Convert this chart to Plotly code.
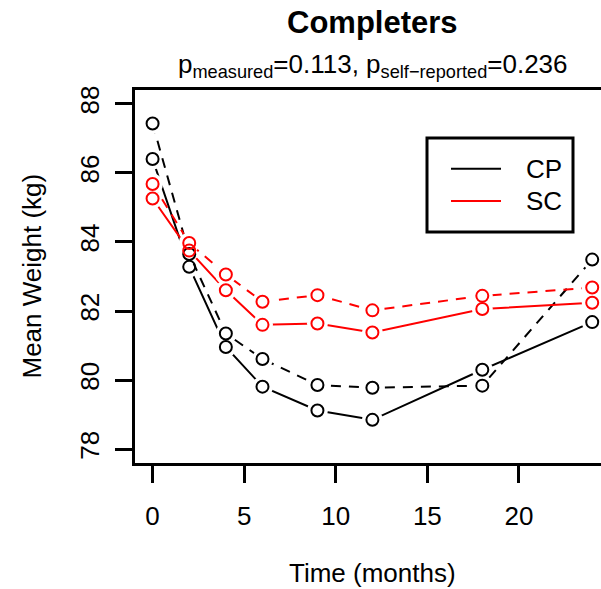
import plotly.graph_objects as go

# ---- data ----
months = [0, 2, 4, 6, 9, 12, 18, 24]
cp_measured = [86.40, 83.28, 80.96, 79.81, 79.12, 78.85, 80.30, 81.68]       # black solid
cp_selfreported = [87.43, 83.65, 81.35, 80.61, 79.86, 79.78, 79.84, 83.49]   # black dashed
sc_measured = [85.26, 83.75, 82.60, 81.60, 81.64, 81.38, 82.06, 82.24]       # red solid
sc_selfreported = [85.68, 83.97, 83.06, 82.27, 82.46, 82.02, 82.44, 82.68]   # red dashed

x_ticks = [0, 5, 10, 15, 20]
y_ticks = [78, 80, 82, 84, 86, 88]
legend_names = ["CP", "SC"]

FONT = "Liberation Sans, Arial, sans-serif"
BLACK = "#000000"
RED = "#FF0000"

series = [
    ("CP", cp_measured, BLACK, "solid"),
    ("CP self-reported", cp_selfreported, BLACK, "10px,8px"),
    ("SC", sc_measured, RED, "solid"),
    ("SC self-reported", sc_selfreported, RED, "10px,8px"),
]

fig = go.Figure()
# lines, each followed by white discs that open small gaps around its points (R type="b")
for name, vals, col, dash in series:
    fig.add_trace(go.Scatter(x=months, y=vals, mode="lines", name=name,
                             line=dict(color=col, width=2, dash=dash),
                             showlegend=False, hoverinfo="skip"))
    fig.add_trace(go.Scatter(x=months, y=vals, mode="markers", showlegend=False,
                             marker=dict(symbol="circle", size=21, color="white",
                                         line=dict(width=0)),
                             hoverinfo="skip"))
# open circles on top
for name, vals, col, dash in series:
    fig.add_trace(go.Scatter(x=months, y=vals, mode="markers", showlegend=False,
                             name=name,
                             marker=dict(symbol="circle-open", size=12, color=col,
                                         line=dict(width=2, color=col))))

W, H = 601, 589
L, R, T, B = 135, 0, 90, 126
pw, ph = W - L - R, H - T - B

def px_to_paper_x(px):
    return (px - L) / pw

def px_to_paper_y(py):
    return (H - B - py) / ph

# legend box (R-style), drawn in paper coordinates
leg_x0, leg_x1, leg_y0, leg_y1 = 427, 573, 138, 232
leg_line_x0, leg_line_x1, leg_text_x = 451, 501, 524
leg_rows = [168.7, 201.0]
leg_cols = [BLACK, RED]

shapes = [dict(type="rect", xref="paper", yref="paper",
               x0=px_to_paper_x(leg_x0), x1=px_to_paper_x(leg_x1),
               y0=px_to_paper_y(leg_y1), y1=px_to_paper_y(leg_y0),
               line=dict(color="black", width=3), fillcolor="white", layer="above")]
annotations = []
for nm, yrow, col in zip(legend_names, leg_rows, leg_cols):
    shapes.append(dict(type="line", xref="paper", yref="paper",
                       x0=px_to_paper_x(leg_line_x0), x1=px_to_paper_x(leg_line_x1),
                       y0=px_to_paper_y(yrow), y1=px_to_paper_y(yrow),
                       line=dict(color=col, width=2), layer="above"))
    annotations.append(dict(text=nm, xref="paper", yref="paper",
                            x=px_to_paper_x(leg_text_x), y=px_to_paper_y(yrow),
                            xanchor="left", yanchor="middle", showarrow=False,
                            font=dict(family=FONT, size=26, color="black")))

annotations += [
    dict(text="<b>Completers</b>", xref="paper", yref="paper",
         x=px_to_paper_x(372.5), y=px_to_paper_y(22), xanchor="center", yanchor="middle",
         showarrow=False, font=dict(family=FONT, size=31, color="black")),
    dict(text="p<sub>measured</sub>=0.113, p<sub>self\u2212reported</sub>=0.236",
         xref="paper", yref="paper",
         x=px_to_paper_x(372.5), y=px_to_paper_y(66), xanchor="center", yanchor="middle",
         showarrow=False, font=dict(family=FONT, size=26, color="black")),
    dict(text="Time (months)", xref="paper", yref="paper",
         x=px_to_paper_x(372.5), y=px_to_paper_y(573), xanchor="center", yanchor="middle",
         showarrow=False, font=dict(family=FONT, size=26, color="black")),
    dict(text="Mean Weight (kg)", xref="paper", yref="paper", textangle=-90,
         x=px_to_paper_x(31), y=px_to_paper_y(276.5), xanchor="center", yanchor="middle",
         showarrow=False, font=dict(family=FONT, size=26, color="black")),
]

fig.update_layout(
    width=W, height=H,
    margin=dict(l=L, r=R, t=T, b=B, pad=0),
    paper_bgcolor="white", plot_bgcolor="white",
    font=dict(family=FONT, size=26, color="black"),
    showlegend=False,
    xaxis=dict(range=[-0.96, 24.48], tickvals=x_ticks, ticktext=[str(v) for v in x_ticks],
               showgrid=False, zeroline=False, showline=True, linecolor="black",
               linewidth=2.5, mirror=True, ticks="outside", ticklen=17, tickwidth=2.5,
               tickcolor="black", ticklabelstandoff=11,
               tickfont=dict(family=FONT, size=26, color="black")),
    yaxis=dict(range=[77.6, 88.4], tickvals=y_ticks, ticktext=[str(v) for v in y_ticks],
               showgrid=False, zeroline=False, showline=True, linecolor="black",
               linewidth=2.5, mirror=False, ticks="outside", ticklen=17, tickwidth=2.5,
               tickcolor="black", tickangle=-90, ticklabelstandoff=6,
               tickfont=dict(family=FONT, size=26, color="black")),
    shapes=shapes,
    annotations=annotations,
)

fig.write_html("out.html")
